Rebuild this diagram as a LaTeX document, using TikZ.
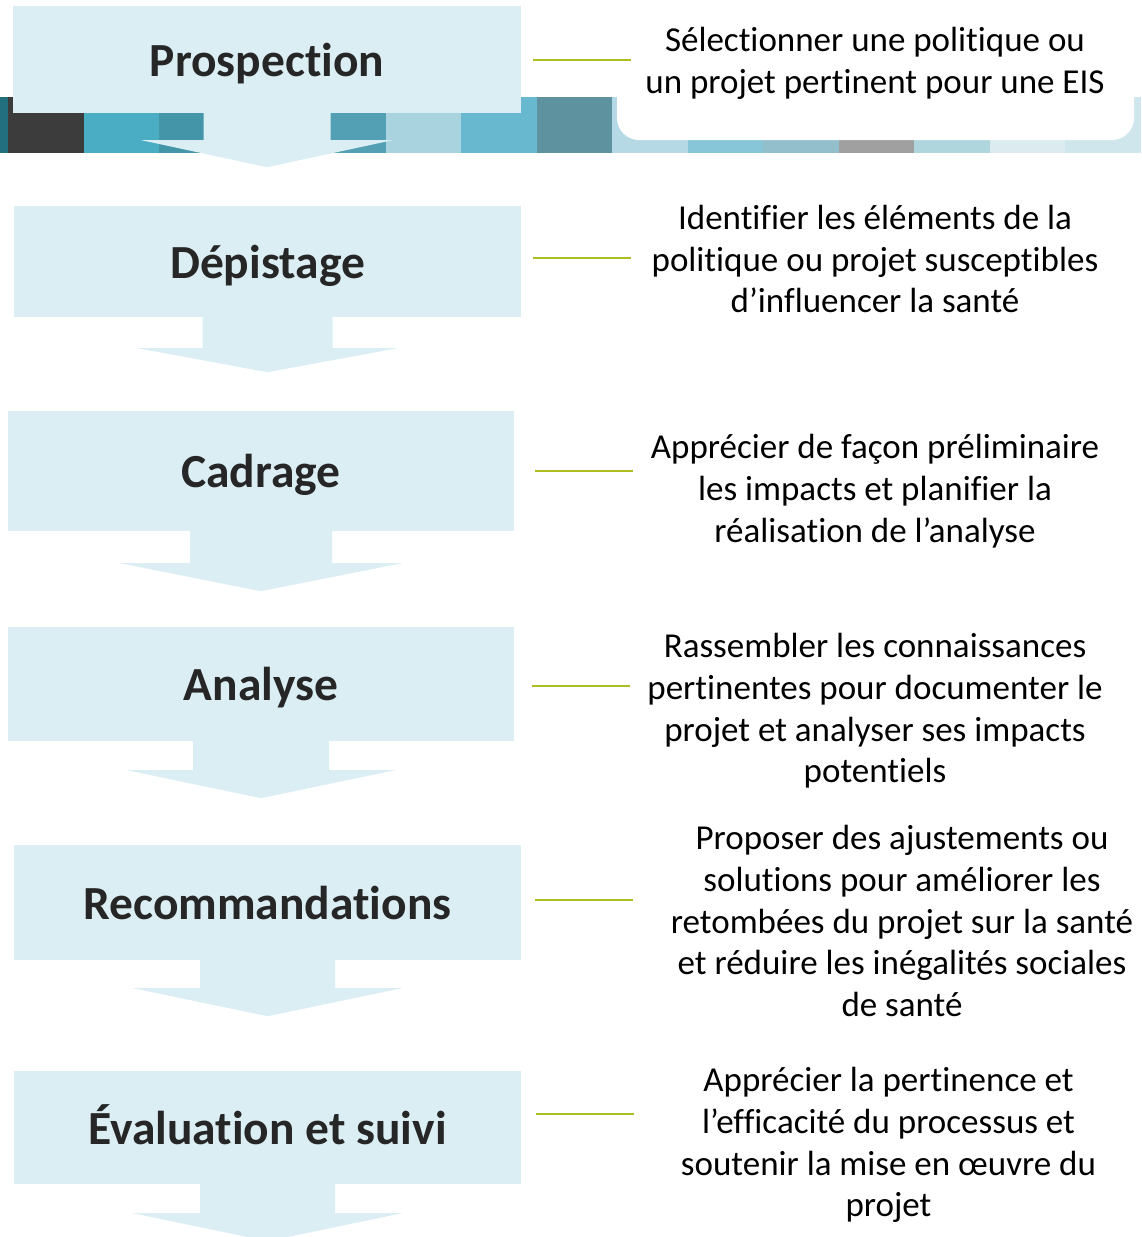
\documentclass[tikz,border=0pt]{standalone}
\usepackage{fontspec}
\setmainfont[Ligatures=CommonOff]{Carlito}

\definecolor{stepfill}{RGB}{219,238,244}
\definecolor{steptext}{RGB}{38,38,38}
\definecolor{linkgreen}{RGB}{173,189,34}
\definecolor{bandteal}{RGB}{34,112,127}

\tikzset{
    stepbox/.style={rectangle,fill=stepfill,inner sep=0pt,text=steptext,
        text height=35.6pt,text depth=2.4pt,
        font=\fontsize{47.5}{57}\selectfont\bfseries},
    desc/.style={align=center,text=black,font=\fontsize{35}{41.7}\selectfont},
    link/.style={draw=linkgreen,line width=2.5pt}
}

% stem and head under a step box: node, stem half width, stem length, head half width, head length
\newcommand{\steparrow}[5]{%
    \fill[stepfill] ([xshift=-#2pt,yshift=1pt]#1.south) -- ++(0,{#3+1}) -- ++({#2-#4},0)
        -- ++(#4,#5) -- ++(#4,-#5) -- ++({#2-#4},0) -- ++(0,{-#3-1}) -- cycle;}

\begin{document}
\begin{tikzpicture}[x=1pt,y=-1pt]
\useasboundingbox (0,0) rectangle (1141,1237);

% % banner behind the first step
\fill[bandteal] (0,97) rectangle (8,153);
\foreach \c [count=\i] in {3C3C3C,4AADC4,4595A8,4F9DB0,53A0B4,AAD3E0,68B9CF,5E929E,
                           B5DAE5,86C6D8,92BFCB,A0A0A0,AFD5DD,DCEBF0,CFE6EC}{
    \definecolor{bandcol}{HTML}{\c}
    \fill[bandcol] ({8+75.5*(\i-1)},97) rectangle ++(75.5,56);
}
\fill[white,rounded corners=22pt] (617,-30) rectangle (1134,140);

% % steps
\begin{scope}[every node/.style={stepbox}]
    \node (s1) at (267,59.5) [minimum width=508pt,minimum height=107pt] {Prospection};
    \node (s2) at (267.5,261.5) [minimum width=507pt,minimum height=111pt] {Dépistage};
    \node (s3) at (261,471) [minimum width=506pt,minimum height=120pt] {Cadrage};
    \node (s4) at (261,684) [minimum width=506pt,minimum height=114pt] {Analyse};
    \node (s5) at (267.5,902.5) [minimum width=507pt,minimum height=115pt] {Recommandations};
    \node (s6) at (267.5,1127.5) [minimum width=507pt,minimum height=113pt] {Évaluation et suivi};
\end{scope}

\steparrow{s1}{63.5}{27}{125.5}{27}
\steparrow{s2}{65}{31}{130}{24}
\steparrow{s3}{71}{32}{141}{28}
\steparrow{s4}{68}{29}{134}{28}
\steparrow{s5}{67.5}{28}{134.5}{28}
\steparrow{s6}{67.5}{29}{134.5}{28}

% % descriptions
\begin{scope}[every node/.style={desc}]
    \node (d1) at (875,63.5) {Sélectionner une politique ou\\un projet pertinent pour une EIS};
    \node (d2) at (875,259) {Identifier les éléments de la\\politique ou projet susceptibles\\d’influencer la santé};
    \node (d3) at (875,491) {Apprécier de façon préliminaire\\les impacts et planifier la\\réalisation de l’analyse};
    \node (d4) at (875,711) {Rassembler les connaissances\\pertinentes pour documenter le\\projet et analyser ses impacts\\potentiels};
    \node (d5) at (902,921) {Proposer des ajustements ou\\solutions pour améliorer les\\retombées du projet sur la santé\\et réduire les inégalités sociales\\de santé};
    \node (d6) at (888.5,1145) {Apprécier la pertinence et\\l’efficacité du processus et\\soutenir la mise en œuvre du\\projet};
\end{scope}

% % green links
\coordinate (g1a) at (533,60);   \coordinate (g1b) at (631,60);
\coordinate (g2a) at (533,258);  \coordinate (g2b) at (631,258);
\coordinate (g3a) at (535,471);  \coordinate (g3b) at (633,471);
\coordinate (g4a) at (532,686);  \coordinate (g4b) at (630,686);
\coordinate (g5a) at (535,900);  \coordinate (g5b) at (633,900);
\coordinate (g6a) at (536,1114); \coordinate (g6b) at (634,1114);
\draw[link] (g1a) -- (g1b);
\draw[link] (g2a) -- (g2b);
\draw[link] (g3a) -- (g3b);
\draw[link] (g4a) -- (g4b);
\draw[link] (g5a) -- (g5b);
\draw[link] (g6a) -- (g6b);
\end{tikzpicture}
\end{document}
